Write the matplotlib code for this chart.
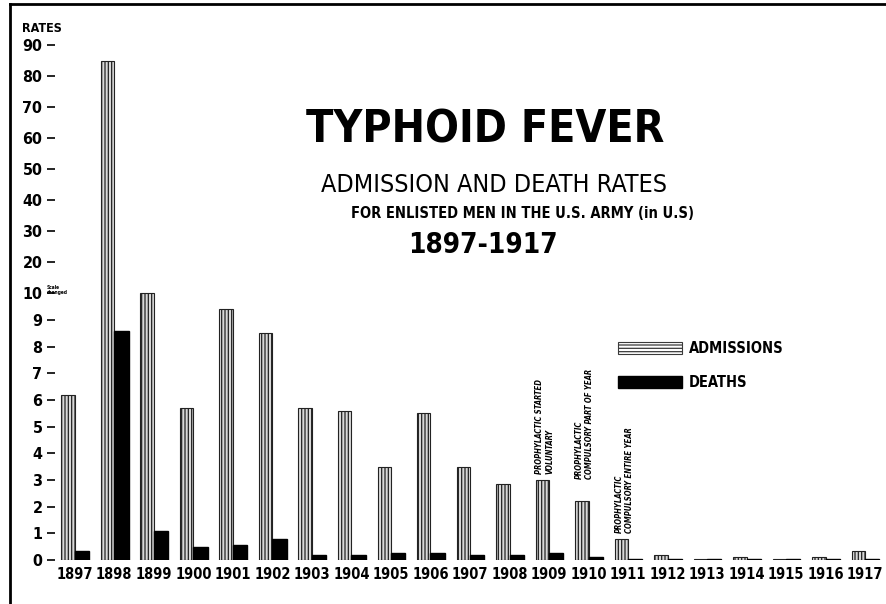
import matplotlib
matplotlib.use('Agg')
import matplotlib.pyplot as plt
from matplotlib.patches import Patch
from matplotlib.lines import Line2D
import numpy as np

# Données (taux pour 1000)
years = ['1897', '1898', '1899', '1900', '1901', '1902', '1903', '1904', '1905', '1906',
         '1907', '1908', '1909', '1910', '1911', '1912', '1913', '1914', '1915', '1916', '1917']
admissions = [6.2, 85, 10.0, 5.7, 9.4, 8.5, 5.7, 5.6, 3.5, 5.5,
              3.5, 2.85, 3.0, 2.2, 0.8, 0.2, 0.05, 0.1, 0.05, 0.12, 0.35]
deaths = [0.35, 8.6, 1.1, 0.5, 0.55, 0.8, 0.2, 0.2, 0.25, 0.25,
          0.2, 0.2, 0.25, 0.1, 0.05, 0.05, 0.02, 0.03, 0.02, 0.03, 0.05]
yticks = [0, 1, 2, 3, 4, 5, 6, 7, 8, 9, 10, 20, 30, 40, 50, 60, 70, 80, 90]
notes = {'1909': 'PROPHYLACTIC STARTED\nVOLUNTARY',
         '1910': 'PROPHYLACTIC\nCOMPULSORY PART OF YEAR',
         '1911': 'PROPHYLACTIC\nCOMPULSORY ENTIRE YEAR'}

plt.rcParams['font.family'] = ['DejaVu Sans']
plt.rcParams['font.stretch'] = 'condensed'
plt.rcParams['hatch.linewidth'] = 0.9

# échelle cassée : 0-10 linéaire, au-dessus de 10 comprimée
k = 0.1165
def fwd(y):
    y = np.asarray(y, dtype=float)
    return np.where(y <= 10, y, 10 + (y - 10) * k)
def inv(t):
    t = np.asarray(t, dtype=float)
    return np.where(t <= 10, t, 10 + (t - 10) / k)

fig = plt.figure(figsize=(8.87, 6.04), dpi=100)
ax = fig.add_axes([55 / 887, 44 / 604, 830 / 887, 515 / 604])
ax.set_yscale('function', functions=(fwd, inv))

x = np.arange(len(years))
ax.bar(x - 0.34, admissions, width=0.34, align='edge', color='#d8d8d8',
       edgecolor='#222222', hatch='|||||', linewidth=0.8)
ax.bar(x, deaths, width=0.36, align='edge', color='black', edgecolor='black')

ax.set_xlim(-0.5, 20.5)
ax.set_ylim(0, 90)
ax.set_yticks(yticks)
ax.set_yticklabels([str(v) for v in yticks], fontsize=11.5, fontweight='bold')
ax.set_xticks(x)
ax.set_xticklabels(years, fontsize=10.5, fontweight='bold')
ax.tick_params(axis='y', length=6, width=1.2, pad=3, direction='out')
ax.tick_params(axis='x', length=0, pad=5)
for s in ax.spines.values():
    s.set_visible(False)
ax.minorticks_off()

# annotations verticales
for yr, txt in notes.items():
    i = years.index(yr)
    off = 16 if yr == '1910' else 4
    ax.annotate(txt, xy=(i - 0.1, admissions[i]), xytext=(0, off), textcoords='offset points',
                rotation=90, ha='center', va='bottom', fontsize=5.5, fontweight='bold',
                multialignment='left', style='italic')

# légende
handles = [Patch(facecolor='white', edgecolor='#3a3a3a', hatch='-----', linewidth=0.8),
           Patch(facecolor='black', edgecolor='black')]
ax.legend(handles, ['ADMISSIONS', 'DEATHS'], loc='upper left', bbox_to_anchor=(0.662, 0.45),
          frameon=False, handlelength=4.4, handleheight=0.9, labelspacing=1.3,
          prop={'weight': 'bold', 'size': 10.5}, handletextpad=0.5)

# titres
fig.text(485 / 887, 1 - 130 / 604, 'TYPHOID FEVER', ha='center', va='center',
         fontsize=32, fontweight='bold')
fig.text(494 / 887, 1 - 185 / 604, 'ADMISSION AND DEATH RATES', ha='center', va='center',
         fontsize=18)
fig.text(523 / 887, 1 - 213 / 604, 'FOR ENLISTED MEN IN THE U.S. ARMY (in U.S)', ha='center',
         va='center', fontsize=10.5, fontweight='bold')
fig.text(483 / 887, 1 - 245 / 604, '1897-1917', ha='center', va='center',
         fontsize=20, fontweight='bold')
fig.text(22 / 887, 1 - 28 / 604, 'RATES', ha='left', va='center', fontsize=9, fontweight='bold')
fig.text(47 / 887, 1 - 290 / 604, 'Scale\nchanged', ha='left', va='center', fontsize=3.5,
         fontweight='bold', linespacing=0.9)

# cadre
fig.add_artist(Line2D([10 / 887, 10 / 887], [0, 1 - 4 / 604], transform=fig.transFigure,
                      color='black', linewidth=2))
fig.add_artist(Line2D([10 / 887, 1], [1 - 4 / 604, 1 - 4 / 604], transform=fig.transFigure,
                      color='black', linewidth=2))

fig.savefig('out.png', dpi=100)
